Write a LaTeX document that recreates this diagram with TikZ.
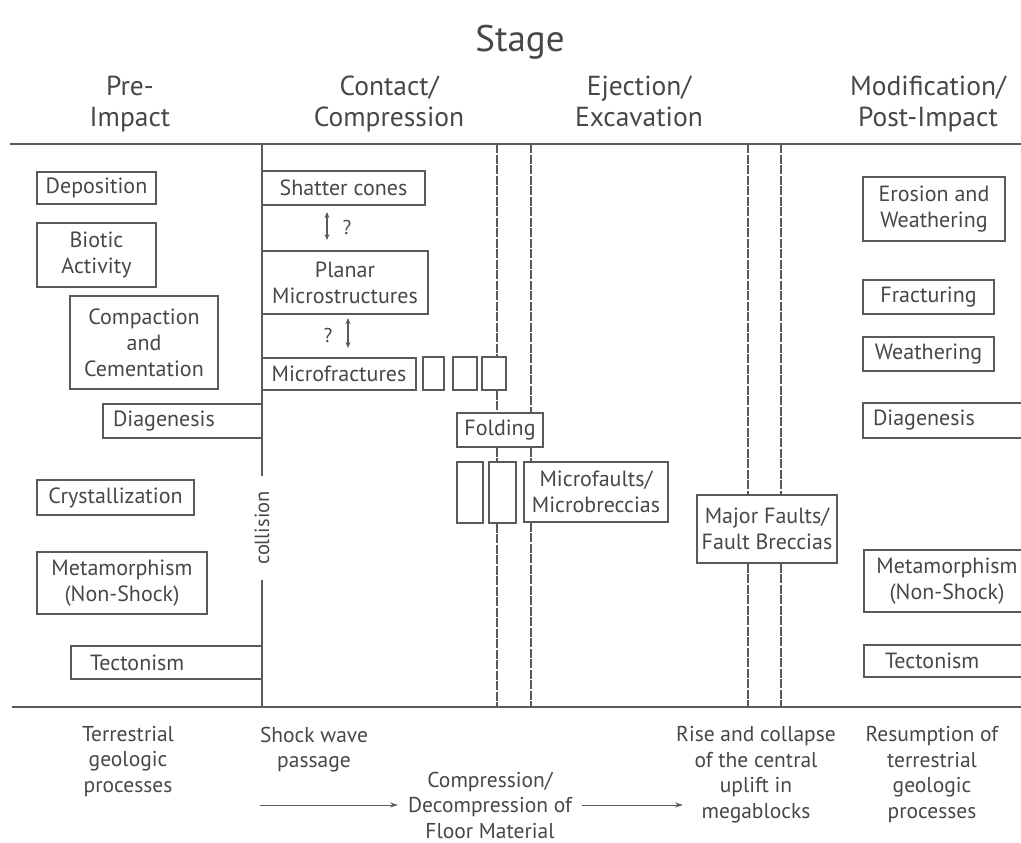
\documentclass[tikz,border=0pt]{standalone}
\usepackage{fontspec}
\setmainfont{PT Sans}
\usetikzlibrary{arrows.meta}
\definecolor{ink}{HTML}{5A5A5A}
\definecolor{txt}{HTML}{474747}
\tikzset{
  struts/.style={execute at begin node=\strut, execute at end node=\strut},
  box/.style={draw=ink, line width=1.2pt, text=txt, align=center, inner sep=1pt,
              font=\fontsize{22}{26}\selectfont},
  rule/.style={draw=ink, line width=1.4pt},
  guide/.style={draw=ink, line width=1.2pt, dash pattern=on 9pt off 1.5pt},
  head/.style={text=txt, align=center, font=\fontsize{27.5}{31}\selectfont, struts},
  foot/.style={text=txt, align=center, font=\fontsize{21.5}{25.5}\selectfont, struts},
  flow/.style={draw=ink, line width=1pt, -{Stealth[length=8pt,width=5pt]}},
  both/.style={draw=ink, line width=1.1pt, {Stealth[length=6pt,width=5pt]}-{Stealth[length=6pt,width=5pt]}},
}
% \pbox[options]{name}{x1}{y1}{x2}{y2}{text}: a framed box between two corners
\newcommand\pbox[7][]{%
  \node[box, minimum width={#5-#3}, minimum height={#6-#4}, #1]
    (#2) at ({(#3+#5)/2},{(#4+#6)/2}) {#7};}
\begin{document}
\begin{tikzpicture}[x=1pt, y=-1pt]
\useasboundingbox (0,0) rectangle (1021,843);

% ---- title and stage headings
\node[text=txt, font=\fontsize{37}{40}\selectfont, struts] (stage) at (520,44) {Stage};
\node[head] (pre)     at (130,106) {Pre-\\Impact};
\node[head] (contact) at (389,106) {Contact/\\Compression};
\node[head] (eject)   at (639,106) {Ejection/\\Excavation};
\node[head] (modif)   at (928,106) {Modification/\\Post-Impact};

% ---- horizontal rules
\coordinate (tl) at (10,144);  \coordinate (tr) at (1021,144);
\coordinate (bl) at (12,707);  \coordinate (br) at (1021,707);
\draw[rule] (tl) -- (tr);
\draw[rule] (bl) -- (br);

% ---- pre-impact processes
\pbox{dep}{37}{172}{156}{204}{Deposition}
\pbox{bio}{37}{223}{156}{287}{Biotic\\Activity}
\pbox{cem}{70}{296}{218}{389}{Compaction\\and\\Cementation}
\pbox[align=left, text width=139pt, inner xsep=10pt]{diaL}{103}{404}{262}{438}{Diagenesis}
\pbox{cry}{37}{480}{194}{515}{Crystallization}
\pbox{metL}{37}{552}{207}{614}{Metamorphism\\(Non-Shock)}
\pbox[align=left, text width=153pt, inner xsep=19pt]{tecL}{71}{646}{262}{679}{Tectonism}

% ---- contact / compression features
\pbox{sc}{262}{171}{425}{205}{Shatter cones}
\pbox{pm}{262}{251}{428}{314}{Planar\\Microstructures}
\pbox{mfr}{262}{358}{416}{390}{Microfractures}
\pbox{m1}{423}{357}{444}{390}{}
\pbox{m2}{453}{357}{477}{390}{}
\pbox{m3}{482}{357}{506}{390}{}
\pbox{fold}{457}{413}{543}{447}{Folding}
\pbox{f1}{457}{462}{483}{523}{}
\pbox{f2}{489}{462}{516}{523}{}
\pbox{mf}{524}{462}{668}{522}{Microfaults/\\Microbreccias}
\pbox{mj}{697}{495}{837}{563}{Major Faults/\\Fault Breccias}

% ---- question-marked links between shock features
\coordinate (q1a) at (327,212); \coordinate (q1b) at (327,240);
\coordinate (q2a) at (348,318); \coordinate (q2b) at (348,348);
\draw[both] (q1a) -- (q1b);
\draw[both] (q2a) -- (q2b);
\node[text=txt, font=\fontsize{20}{22}\selectfont] (q1) at (347,227) {?};
\node[text=txt, font=\fontsize{20}{22}\selectfont] (q2) at (328,335) {?};

% ---- post-impact processes
\pbox{ero}{863}{177}{1005}{241}{Erosion and\\Weathering}
\pbox{fra}{863}{280}{994}{314}{Fracturing}
\pbox{wea}{863}{337}{994}{371}{Weathering}
\pbox[align=left, text width=147pt, inner xsep=10pt]{diaR}{863}{403}{1030}{438}{Diagenesis}
\pbox{metR}{864}{550}{1030}{612}{Metamorphism\\(Non-Shock)}
\pbox[align=left, text width=124pt, inner xsep=21pt]{tecR}{864}{645}{1030}{677}{Tectonism}

% ---- collision boundary
\coordinate (c0) at (262,144); \coordinate (c1) at (262,707);
\node[text=txt, rotate=90, inner xsep=15pt, inner ysep=0pt,
      font=\fontsize{20.5}{22}\selectfont] (coll) at (262,528) {collision};
\draw[rule] (c0) -- (coll.east);
\draw[rule] (coll.west) -- (c1);

% ---- stage boundaries
\coordinate (g1t) at (497,144); \coordinate (g1b) at (497,707);
\coordinate (g2t) at (531,144); \coordinate (g2b) at (531,707);
\coordinate (g3t) at (748,144); \coordinate (g3b) at (748,707);
\coordinate (g4t) at (781,144); \coordinate (g4b) at (781,707);
\draw[guide] (g1t) -- (g1t |- m3.north);
\draw[guide] (g1t |- m3.south) -- (g1t |- fold.north);
\draw[guide] (g1t |- fold.south) -- (g1t |- f2.north);
\draw[guide] (g1t |- f2.south) -- (g1b);
\draw[guide] (g2t) -- (g2t |- fold.north);
\draw[guide] (g2t |- fold.south) -- (g2t |- mf.north);
\draw[guide] (g2t |- mf.south) -- (g2b);
\draw[guide] (g3t) -- (g3t |- mj.north);
\draw[guide] (g3t |- mj.south) -- (g3b);
\draw[guide] (g4t) -- (g4t |- mj.north);
\draw[guide] (g4t |- mj.south) -- (g4b);

% ---- process summary below the table
\node[foot] (terr)   at (128,763) {Terrestrial\\geologic\\processes};
\node[foot] (shock)  at (314,751) {Shock wave\\passage};
\node[foot] (comp)   at (490,809) {Compression/\\Decompression of\\Floor Material};
\node[foot] (rise)   at (756,776) {Rise and collapse\\of the central\\uplift in\\megablocks};
\node[foot] (resume) at (932,776) {Resumption of\\terrestrial\\geologic\\processes};
\coordinate (a1s) at (260,805); \coordinate (a1e) at (398,805);
\coordinate (a2s) at (582,805); \coordinate (a2e) at (683,805);
\draw[flow] (a1s) -- (a1e);
\draw[flow] (a2s) -- (a2e);
\end{tikzpicture}
\end{document}
